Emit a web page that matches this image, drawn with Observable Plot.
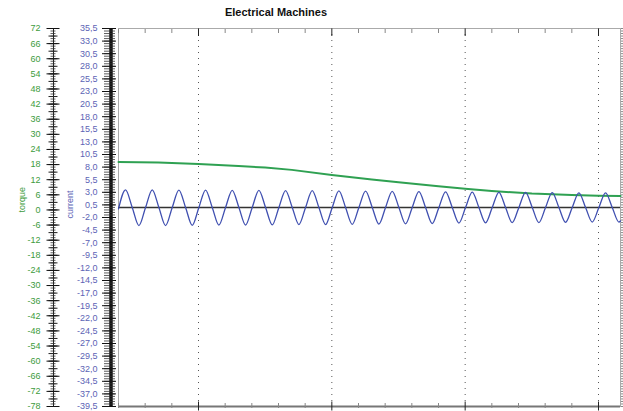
<!DOCTYPE html>
<html><head><meta charset="utf-8">
<script src="https://cdn.jsdelivr.net/npm/d3@7"></script>
<script src="https://cdn.jsdelivr.net/npm/@observablehq/plot@0.6"></script>
<style>
html,body{margin:0;padding:0;background:#fff;overflow:hidden;}
#title{width:552px;height:22px;text-align:center;font:bold 11px 'Liberation Sans',Arial,sans-serif;line-height:12px;padding-top:6px;box-sizing:border-box;color:#111;}
</style></head>
<body>
<div id="title">Electrical Machines</div>
<div id="chart"></div>
<script>
// ---- data ----
const xDomain = [0.04, 0.4165];           // time (s), 50 Hz -> one minor tick per period
const currentDomain = [-39.5, 35.5];
const torqueDomain = [-78, 72];

const majorX = [0.1, 0.2, 0.3, 0.4];

const torqueTickLabels = [72, 66, 60, 54, 48, 42, 36, 30, 24, 18, 12, 6, 0, -6, -12, -18, -24, -30, -36, -42, -48, -54, -60, -66, -72, -78];
const currentTickLabels = [35.5, 33, 30.5, 28, 25.5, 23, 20.5, 18, 15.5, 13, 10.5, 8, 5.5, 3, 0.5, -2, -4.5, -7, -9.5, -12, -14.5, -17, -19.5, -22, -24.5, -27, -29.5, -32, -34.5, -37, -39.5];

const torqueTime   = [0.04, 0.07, 0.10, 0.13, 0.15, 0.17, 0.20, 0.23, 0.25, 0.28, 0.30, 0.32, 0.35, 0.38, 0.40, 0.4165];
const torqueValues = [19.0, 18.8, 18.2, 17.4, 16.8, 15.9, 13.9, 12.1, 11.0, 9.4, 8.4, 7.5, 6.5, 5.9, 5.6, 5.5];

const currentTime = [0.0400,
 0.0453, 0.0503, 0.0553, 0.0603, 0.0653, 0.0703, 0.0753, 0.0803, 0.0853, 0.0903, 0.0953, 0.1003,
 0.1053, 0.1103, 0.1153, 0.1203, 0.1253, 0.1303, 0.1353, 0.1403, 0.1453, 0.1503, 0.1553, 0.1603,
 0.1653, 0.1703, 0.1753, 0.1803, 0.1853, 0.1903, 0.1953, 0.2003, 0.2053, 0.2103, 0.2153, 0.2203,
 0.2253, 0.2303, 0.2353, 0.2403, 0.2453, 0.2503, 0.2553, 0.2603, 0.2653, 0.2703, 0.2753, 0.2803,
 0.2853, 0.2903, 0.2953, 0.3003, 0.3053, 0.3103, 0.3153, 0.3203, 0.3253, 0.3303, 0.3353, 0.3403,
 0.3453, 0.3503, 0.3553, 0.3603, 0.3653, 0.3703, 0.3753, 0.3803, 0.3853, 0.3903, 0.3953, 0.4003,
 0.4053, 0.4103, 0.4153, 0.4165];
const currentValues = [-0.3,
 3.5, 0, -3.6, 0,   3.5, 0, -3.6, 0,   3.45, 0, -3.55, 0,
 3.45, 0, -3.5, 0,  3.4, 0, -3.5, 0,   3.4, 0, -3.45, 0,
 3.35, 0, -3.4, 0,  3.35, 0, -3.4, 0,  3.3, 0, -3.35, 0,
 3.25, 0, -3.3, 0,  3.2, 0, -3.25, 0,  3.15, 0, -3.2, 0,
 3.1, 0, -3.1, 0,   3.05, 0, -3.05, 0, 3.0, 0, -3.0, 0,
 3.0, 0, -3.0, 0,   2.95, 0, -2.95, 0, 2.9, 0, -2.9, 0,
 2.9, 0, -2.9, -2.7];

// ---- helpers ----
const toCur = t => currentDomain[0] + (t - torqueDomain[0]) * (currentDomain[1] - currentDomain[0]) / (torqueDomain[1] - torqueDomain[0]);
const fmtCur = d => d.toFixed(1).replace(".", ",");
const fmtTorque = d => String(d);

const torqueRows = torqueTime.map((t, i) => ({t, v: toCur(torqueValues[i])}));
const currentRows = currentTime.map((t, i) => ({t, v: currentValues[i]}));

const torqueLabelRows = torqueTickLabels.map(v => ({y: toCur(v), label: fmtTorque(v)}));
const torqueMinor = d3.range(-78, 72.001, 1).map(v => ({y: toCur(v)}));
const torqueMid = d3.range(-78, 72.001, 3).map(v => ({y: toCur(v)}));
const currentMinor = d3.range(0, 151).map(i => -39.5 + i * 0.5);
const minorX = d3.range(2, 21).filter(i => i % 5 !== 0).map(i => i * 0.02);

const green = "#2fa152";
const blue = "#3f4fb0";
const greenText = "#3d9b3d";
const blueText = "#5c63b5";

const chart = Plot.plot({
  width: 623,
  height: 389,
  marginTop: 6,
  marginBottom: 5,
  marginLeft: 118,
  marginRight: 3,
  x: {domain: xDomain, axis: null},
  y: {domain: currentDomain, axis: null},
  style: {fontFamily: "'Liberation Sans', Arial, sans-serif", fontSize: "9px", background: "white", overflow: "visible"},
  marks: [
    // frame + grid
    Plot.frame({stroke: "#aaa"}),
    Plot.ruleX(majorX, {stroke: "#555", strokeDasharray: "1,5"}),
    Plot.ruleY([currentDomain[0]], {stroke: "#777", strokeWidth: 2}),
    Plot.ruleY([0], {stroke: "#333", strokeWidth: 1.5}),
    // x ticks (bottom + top)
    Plot.axisX(minorX, {anchor: "bottom", tickSize: 5, dy: -3, stroke: "#888", fill: "none", label: null}),
    Plot.axisX(majorX, {anchor: "bottom", tickSize: 9, dy: -4.5, stroke: "#222", fill: "none", label: null}),
    Plot.axisX(minorX, {anchor: "top", tickSize: 4, dy: 4, stroke: "#888", fill: "none", label: null}),
    Plot.axisX(majorX, {anchor: "top", tickSize: 7, dy: 7, stroke: "#222", fill: "none", label: null}),
    // right ticks
    Plot.axisY(currentMinor, {anchor: "right", tickSize: 3, stroke: "#888", fill: "none", label: null}),
    // current axis (inner left)
    Plot.ruleX([xDomain[0]], {dx: -7.5, stroke: "#111", strokeWidth: 3.5}),
    Plot.axisY(currentMinor, {anchor: "left", tickSize: 11, dx: -3, stroke: "#333", strokeWidth: 0.8, fill: "none", label: null}),
    Plot.axisY(currentTickLabels, {anchor: "left", tickSize: 14, dx: -2, stroke: "#111", fill: "none", label: null}),
    Plot.axisY(currentTickLabels, {anchor: "left", tickSize: 0, tickPadding: 0, dx: -21, tickFormat: fmtCur, fill: blueText, fontSize: 9, label: null}),
    // torque axis (outer left)
    Plot.ruleX([xDomain[0]], {dx: -65, stroke: "#222", strokeWidth: 1}),
    Plot.axisY(torqueMinor, {y: "y", anchor: "left", tickSize: 5, dx: -62.5, stroke: "#333", strokeWidth: 0.8, fill: "none", label: null}),
    Plot.axisY(torqueMid, {y: "y", anchor: "left", tickSize: 9, dx: -60.5, stroke: "#222", fill: "none", label: null}),
    Plot.axisY(torqueLabelRows, {y: "y", anchor: "left", tickSize: 13, dx: -58.5, stroke: "#111", fill: "none", label: null}),
    Plot.axisY(torqueLabelRows, {y: "y", text: "label", anchor: "left", tickSize: 0, tickPadding: 0, dx: -78, fill: greenText, fontSize: 9, label: null}),
    // axis titles
    Plot.text(["torque"], {frameAnchor: "left", dx: -96, dy: -5, rotate: -90, fill: greenText, fontSize: 9}),
    Plot.text(["current"], {frameAnchor: "left", dx: -48, dy: 1, rotate: -90, fill: blueText, fontSize: 9}),
    // data
    Plot.line(torqueRows, {x: "t", y: "v", stroke: green, strokeWidth: 2}),
    Plot.line(currentRows, {x: "t", y: "v", stroke: blue, strokeWidth: 1.3, curve: "monotone-x"})
  ]
});
document.getElementById("chart").appendChild(chart);
</script>
</body></html>
